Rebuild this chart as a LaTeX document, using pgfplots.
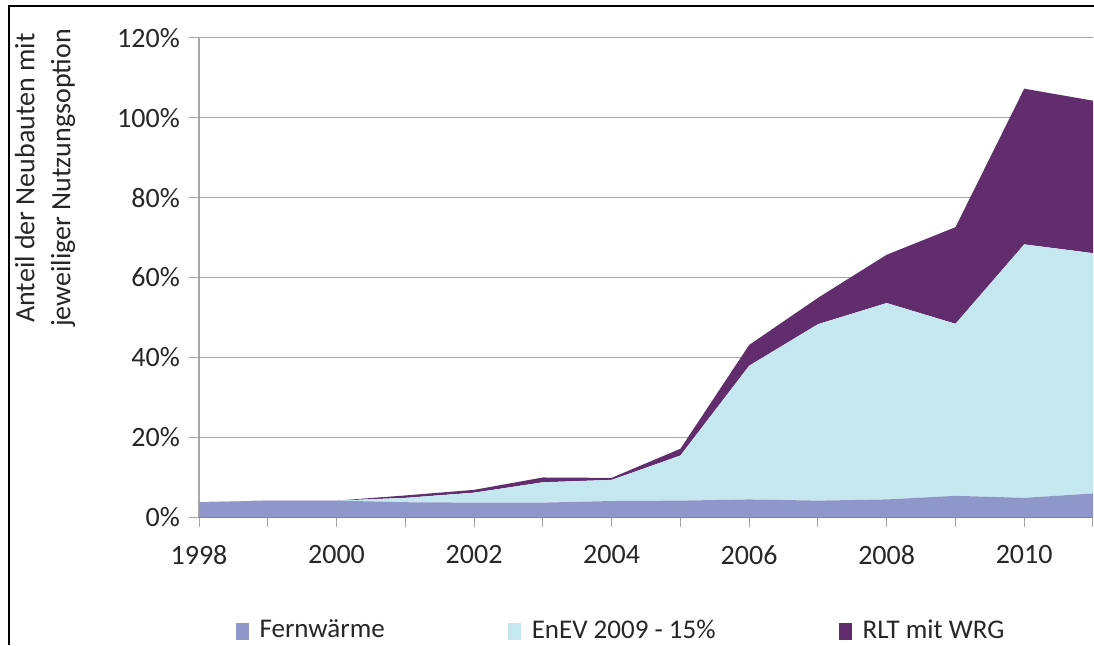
\documentclass[border=0pt]{standalone}
\usepackage{pgfplots}
\pgfplotsset{compat=1.18}
\usepackage{fontspec}
\setmainfont{Carlito}
\definecolor{fern}{HTML}{8E96CA}
\definecolor{enev}{HTML}{C5E7F0}
\definecolor{rlt}{HTML}{622D6C}
\definecolor{txt}{HTML}{262626}
\definecolor{gridc}{HTML}{A6A6A6}
\begin{document}
\fontsize{27}{32}\selectfont
\begin{tikzpicture}[x=1pt,y=1pt]
\useasboundingbox (0,0) rectangle (1094,645);
\draw[line width=2.5pt] (9,0) -- (9,639) -- (1094,639);
\node[rotate=90, align=center, text=txt, font=\fontsize{28}{36}\selectfont] at (45,467) {Anteil der Neubauten mit\\jeweiliger Nutzungsoption};
\begin{axis}[
  at={(199pt,128pt)}, anchor=south west,
  scale only axis, width=894pt, height=479pt,
  xmin=1998, xmax=2011, ymin=0, ymax=120,
  stack plots=y,
  axis x line*=bottom, axis y line*=left,
  x axis line style={draw=gray, line width=1.2pt, -},
  y axis line style={draw=gridc, line width=1.2pt, -},
  xtick={1998,...,2011},
  xticklabels={1998,,2000,,2002,,2004,,2006,,2008,,2010,},
  ytick={0,20,...,120},
  yticklabels={0\%,20\%,40\%,60\%,80\%,100\%,120\%},
  tick align=outside, major tick length=10pt,
  tick style={draw=gridc, line width=1pt},
  ymajorgrids, grid style={draw=gridc, line width=1pt},
  ticklabel style={font=\fontsize{28}{32}\selectfont, text=txt},
  xticklabel style={yshift=-9pt},
  /pgf/number format/assume math mode=true,
  legend style={at={(0.472,-0.238)}, anchor=center, draw=none, fill=none,
    font=\fontsize{27}{32}\selectfont, text=txt,
    /tikz/every even column/.append style={column sep=121pt}},
  legend columns=3,
  legend image code/.code={\fill[#1] (0pt,-8.5pt) rectangle (13pt,8.5pt); \path (22pt,0pt);},
]
\addplot[fill=fern, draw=none] coordinates {
(1998,3.7) (1999,4.1) (2000,4.1) (2001,3.7) (2002,3.6) (2003,3.6) (2004,4.0)
(2005,4.1) (2006,4.4) (2007,4.1) (2008,4.4) (2009,5.3) (2010,4.8) (2011,5.9)} \closedcycle;
\addlegendentry{Fernwärme}
\addplot[fill=enev, draw=none] coordinates {
(1998,0) (1999,0) (2000,0) (2001,1.1) (2002,2.5) (2003,5.1) (2004,5.3)
(2005,11.3) (2006,33.5) (2007,44.2) (2008,49.2) (2009,43.1) (2010,63.5) (2011,60.2)} \closedcycle;
\addlegendentry{EnEV 2009 - 15\%}
\addplot[fill=rlt, draw=none] coordinates {
(1998,0) (1999,0) (2000,0) (2001,0.6) (2002,0.7) (2003,1.2) (2004,0.5)
(2005,1.7) (2006,5.2) (2007,6.6) (2008,12.1) (2009,24.2) (2010,39.0) (2011,38.2)} \closedcycle;
\addlegendentry{RLT mit WRG}
\end{axis}
\end{tikzpicture}
\end{document}
